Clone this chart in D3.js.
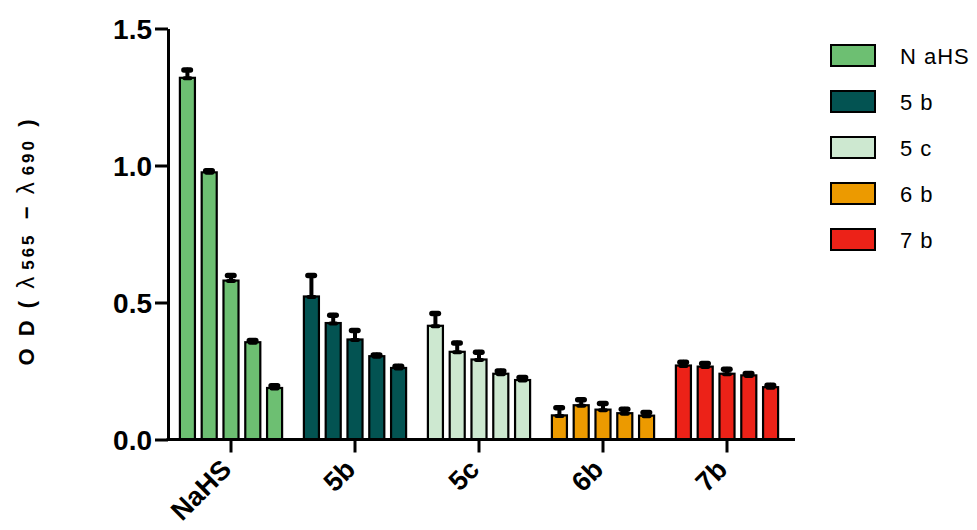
<!DOCTYPE html>
<html>
<head>
<meta charset="utf-8">
<script src="https://cdn.jsdelivr.net/npm/d3@7"></script>
<style>
  html, body { margin: 0; padding: 0; background: #fff; }
  svg { display: block; font-family: "Liberation Sans", Arial, sans-serif; }
</style>
</head>
<body>
<svg id="chart" width="977" height="530"></svg>
<script>
// Compound groups along the x axis and the five concentrations within each
const groups = ["NaHS", "5b", "5c", "6b", "7b"];
const seriesNames = ["NaHS", "5b", "5c", "6b", "7b"];
const colors = ["#6dbf72", "#035352", "#cde8d0", "#ec9a00", "#ec2218"];

// Mean OD per group (five concentrations each) and upper error
const nahsMean = [1.32, 0.975, 0.58, 0.355, 0.188];
const nahsErr  = [0.03, 0.008, 0.02, 0.008, 0.01];
const b5Mean   = [0.522, 0.425, 0.365, 0.304, 0.261];
const b5Err    = [0.078, 0.03, 0.035, 0.006, 0.008];
const c5Mean   = [0.415, 0.32, 0.292, 0.24, 0.217];
const c5Err    = [0.047, 0.034, 0.028, 0.012, 0.011];
const b6Mean   = [0.088, 0.125, 0.109, 0.096, 0.087];
const b6Err    = [0.03, 0.022, 0.024, 0.016, 0.013];
const b7Mean   = [0.27, 0.266, 0.24, 0.234, 0.191];
const b7Err    = [0.014, 0.013, 0.018, 0.009, 0.009];

const yTicks = [0, 0.5, 1.0, 1.5];

const means = [nahsMean, b5Mean, c5Mean, b6Mean, b7Mean];
const errs  = [nahsErr, b5Err, c5Err, b6Err, b7Err];

const bars = [];
groups.forEach((g, gi) => {
  means[gi].forEach((v, i) => bars.push({ group: g, gi, idx: i, value: v, err: errs[gi][i] }));
});

const svg = d3.select("#chart");

const x0 = d3.scaleBand().domain(groups).range([169, 789]).paddingInner(0).paddingOuter(0);
const x1 = d3.scaleBand().domain(d3.range(5)).range([0, x0.bandwidth()]).paddingInner(0.31).paddingOuter(0.5);
const y = d3.scaleLinear().domain([0, 1.5]).range([439.5, 28.5]);

// Bars
const barG = svg.append("g");
barG.selectAll("rect")
  .data(bars)
  .join("rect")
  .attr("x", d => x0(d.group) + x1(d.idx))
  .attr("y", d => y(d.value))
  .attr("width", x1.bandwidth())
  .attr("height", d => y(0) - y(d.value))
  .attr("fill", d => colors[d.gi])
  .attr("stroke", "#000")
  .attr("stroke-width", 2.2);

// Upper error bars with rounded caps
const errG = svg.append("g").attr("stroke", "#000").attr("stroke-linecap", "round");
bars.forEach(d => {
  const cx = x0(d.group) + x1(d.idx) + x1.bandwidth() / 2;
  errG.append("line")
    .attr("x1", cx).attr("x2", cx)
    .attr("y1", y(d.value)).attr("y2", y(d.value + d.err))
    .attr("stroke-width", 4);
  errG.append("line")
    .attr("x1", cx - 3.5).attr("x2", cx + 3)
    .attr("y1", y(d.value + d.err) + 0.5).attr("y2", y(d.value + d.err) + 0.5)
    .attr("stroke-width", 5.5);
  errG.append("line")
    .attr("x1", cx - 3).attr("x2", cx + 3)
    .attr("y1", y(d.value) + 0.5).attr("y2", y(d.value) + 0.5)
    .attr("stroke-width", 4);
});

// Y axis
const yAxis = d3.axisLeft(y).tickValues(yTicks).tickFormat(d3.format(".1f")).tickSize(13).tickSizeOuter(0).tickPadding(3);
const yG = svg.append("g").attr("transform", "translate(168,0)").call(yAxis);
yG.select(".domain").attr("stroke-width", 3);
yG.selectAll(".tick line").attr("stroke-width", 3);
yG.selectAll(".tick text")
  .attr("font-size", 28).attr("font-weight", "bold").attr("fill", "#000")
  .attr("font-family", "Liberation Sans, Arial, sans-serif")
  .attr("dy", "0.36em");

// X axis
const xAxis = d3.axisBottom(x0).tickSize(13).tickSizeOuter(0).tickFormat("");
const xG = svg.append("g").attr("transform", `translate(0,${y(0)})`).call(xAxis);
xG.select(".domain").remove();
xG.selectAll(".tick line").attr("stroke-width", 3);
xG.append("line")
  .attr("x1", 166.5).attr("x2", 795)
  .attr("y1", 0).attr("y2", 0)
  .attr("stroke", "#000").attr("stroke-width", 3);

// Rotated group labels
svg.append("g").selectAll("text")
  .data(groups)
  .join("text")
  .attr("transform", d => `translate(${x0(d) + x0.bandwidth() / 2 + 2},471) rotate(-45)`)
  .attr("text-anchor", "end")
  .attr("font-size", 27)
  .attr("font-weight", "bold")
  .text(d => d);

// Y axis title
const title = svg.append("text")
  .attr("transform", "translate(34,241) rotate(-90)")
  .attr("text-anchor", "middle")
  .attr("font-size", 22)
  .attr("font-weight", "bold")
  .attr("letter-spacing", 3);
title.append("tspan").text("O D ( ");
title.append("tspan").attr("font-weight", "normal").attr("font-size", 24).text("λ");
title.append("tspan").attr("font-size", 17).attr("dx", 4).text("565");
title.append("tspan").attr("dx", 4).text(" − ");
title.append("tspan").attr("font-weight", "normal").attr("font-size", 24).text("λ");
title.append("tspan").attr("font-size", 17).attr("dx", 4).text("690");
title.append("tspan").attr("dx", 2).text(" )");

// Legend
const legend = svg.append("g");
seriesNames.forEach((name, i) => {
  const row = legend.append("g").attr("transform", `translate(831,${45 + i * 46})`);
  row.append("rect")
    .attr("width", 44).attr("height", 21)
    .attr("fill", colors[i]).attr("stroke", "#000").attr("stroke-width", 2);
  const t = row.append("text")
    .attr("x", 69).attr("y", 19)
    .attr("font-size", 22)
    .attr("letter-spacing", 1);
  t.append("tspan").text(name.slice(0, 1));
  t.append("tspan").attr("dx", 7).text(name.slice(1));
});
</script>
</body>
</html>
